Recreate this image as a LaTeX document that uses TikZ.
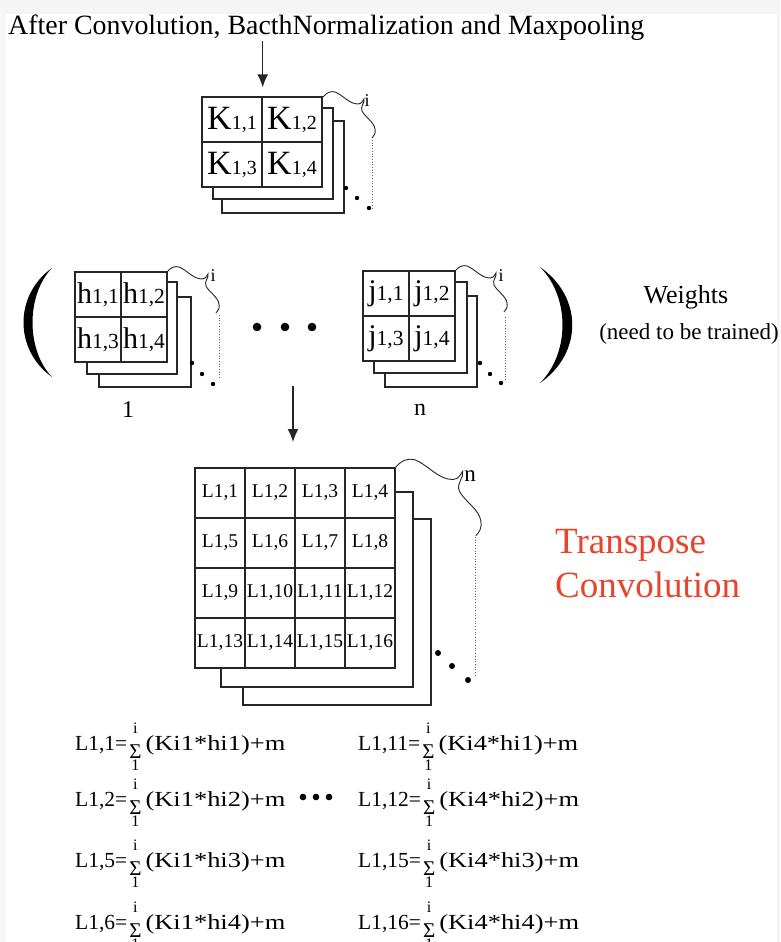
\documentclass[tikz,border=0pt]{standalone}
\usepackage{fontspec}
\setmainfont{Liberation Serif}
\usepackage{graphicx}
\usepackage{tikz}
\usetikzlibrary{arrows.meta, positioning}
\definecolor{tred}{RGB}{232,68,44}
\newcommand{\kcell}[1]{{\fontsize{34}{34}\selectfont K}{\fontsize{20}{20}\selectfont #1}}
\newcommand{\wcell}[2]{{\fontsize{30}{30}\selectfont #1}{\fontsize{21.5}{21.5}\selectfont #2}}
\newcommand{\sumst}{\kern2pt\raisebox{-20pt}{\vbox{\offinterlineskip\halign{\hfil##\hfil\cr
  \fontsize{16}{16}\selectfont i\cr\noalign{\kern11pt}
  \fontsize{21}{21}\selectfont Σ\cr\noalign{\kern1pt}
  \fontsize{16}{16}\selectfont 1\cr}}}\kern4pt}
\newcommand{\term}[1]{\scalebox{1.23}[1]{#1}}
\tikzstyle{ink} = [draw=black!85, line width=1.4pt]
\tikzstyle{kcell} = [ink, minimum width=60pt, minimum height=45pt, inner sep=0pt]
\tikzstyle{wcell} = [ink, minimum width=46pt, minimum height=45pt, inner sep=0pt]
\tikzstyle{lcell} = [ink, minimum width=50pt, minimum height=50pt, inner sep=0pt,
                     font=\fontsize{19.5}{19.5}\selectfont]
\tikzstyle{sheet} = [ink]
\tikzstyle{fade} = [dotted, line width=0.7pt, black!60]
\tikzstyle{curl} = [line width=0.9pt, black!85]
\tikzstyle{pointer} = [ink, -{Latex[length=13pt, width=11pt]}]
\tikzstyle{eq} = [anchor=base west, inner sep=0pt, font=\fontsize{21.5}{21.5}\selectfont]
\newcommand{\curlpath}{(0,0) .. controls (4,-5) and (8,-6) .. (12,-5) .. controls (20,-2) and (26,7) .. (35,7)
  .. controls (39,7) and (40,3) .. (41,2) .. controls (42,6) and (37,9) .. (39,14)
  .. controls (42,20) and (51,25) .. (52,32) .. controls (53,36) and (51,39) .. (49,41)}

\begin{document}
\begin{tikzpicture}[x=1pt, y=-1pt]
	\useasboundingbox (0,0) rectangle (780,942);
	\fill[black!4] (0,0) rectangle (780,942);
	\fill[white] (6,14) rectangle (777,942);

	\node (Title) [anchor=base west, inner sep=0pt, font=\fontsize{27.9}{28}\selectfont] at (8,35)
		{After Convolution, BacthNormalization and Maxpooling};

	% input feature maps
	\node (K1) [kcell] at (232,119.5) {\kcell{1,1}};
	\node (K2) [kcell] at (292,119.5) {\kcell{1,2}};
	\node (K3) [kcell] at (232,164.5) {\kcell{1,3}};
	\node (K4) [kcell] at (292,164.5) {\kcell{1,4}};
	\draw [sheet] (322,108) -- (333,108) -- (333,199) -- (213,199) -- (213,187);
	\draw [sheet] (333,121) -- (344,121) -- (344,213) -- (222,213) -- (222,199);
	\draw [curl, shift={(323,97)}] \curlpath;
	\node (KDepth) [font=\fontsize{18}{18}\selectfont] at (367,101) {i};
	\draw [fade] (372,140) -- (372,208);
	\fill (346,188) circle (2.2pt) (357,198) circle (2.2pt) (369,208) circle (2.2pt);

	\draw [pointer, shorten >=9pt] (Title.south -| K1.north east) -- (K1.north east);

	% weights
	\fill (52,268) .. controls (14,295) and (14,350) .. (52,377) .. controls (26,350) and (26,295) .. (52,268);
	\fill (540,267) .. controls (583,297) and (583,353) .. (540,383) .. controls (570,353) and (570,297) .. (540,267);

	% first kernel
	\node (H1) [wcell] at (98,294.5) {\wcell{h}{1,1}};
	\node (H2) [wcell] at (144,294.5) {\wcell{h}{1,2}};
	\node (H3) [wcell] at (98,339.5) {\wcell{h}{1,3}};
	\node (H4) [wcell] at (144,339.5) {\wcell{h}{1,4}};
	\draw [sheet] (167,282) -- (177,282) -- (177,374) -- (87,374) -- (87,362);
	\draw [sheet] (177,297) -- (191,297) -- (191,387) -- (99,387) -- (99,374);
	\draw [curl, shift={(167,272)}] \curlpath;
	\node (HDepth) [font=\fontsize{18}{18}\selectfont] at (213,276) {i};
	\draw [fade] (219,315) -- (219,378);
	\fill (192,363) circle (2.2pt) (202,374) circle (2.2pt) (213,384) circle (2.2pt);
	\node (HLabel) [font=\fontsize{24}{24}\selectfont] at (128,410) {1};

	\fill (257,327) circle (4.3pt) (285,327) circle (4.3pt) (312,327) circle (4.3pt);

	% n-th kernel
	\node (J1) [wcell] at (386,293.5) {\wcell{j}{1,1}};
	\node (J2) [wcell] at (432,293.5) {\wcell{j}{1,2}};
	\node (J3) [wcell] at (386,338.5) {\wcell{j}{1,3}};
	\node (J4) [wcell] at (432,338.5) {\wcell{j}{1,4}};
	\draw [sheet] (455,282) -- (467,282) -- (467,373) -- (374,373) -- (374,361);
	\draw [sheet] (467,296) -- (477,296) -- (477,387) -- (385,387) -- (385,373);
	\draw [curl, shift={(455,271)}] \curlpath;
	\node (JDepth) [font=\fontsize{18}{18}\selectfont] at (501,276) {i};
	\draw [fade] (505,317) -- (505,380);
	\fill (480,363) circle (2.2pt) (490,374) circle (2.2pt) (501,383) circle (2.2pt);
	\node (JLabel) [font=\fontsize{24}{24}\selectfont] at (420,410) {n};

	\node (Weights) [font=\fontsize{26}{26}\selectfont] at (686,297) {Weights};
	\node (Trained) [font=\fontsize{23}{23}\selectfont] at (689,334) {(need to be trained)};

	\coordinate (WOut) at (293,386);
	\coordinate (LIn) at (293,442);
	\draw [pointer] (WOut) -- (LIn);

	% output of the transpose convolution
	\node (L1) [lcell] at (220,493) {L1,1};
	\node (L2) [lcell] at (270,493) {L1,2};
	\node (L3) [lcell] at (320,493) {L1,3};
	\node (L4) [lcell] at (370,493) {L1,4};
	\node (L5) [lcell] at (220,543) {L1,5};
	\node (L6) [lcell] at (270,543) {L1,6};
	\node (L7) [lcell] at (320,543) {L1,7};
	\node (L8) [lcell] at (370,543) {L1,8};
	\node (L9) [lcell] at (220,593) {L1,9};
	\node (L10) [lcell] at (270,593) {L1,10};
	\node (L11) [lcell] at (320,593) {L1,11};
	\node (L12) [lcell] at (370,593) {L1,12};
	\node (L13) [lcell] at (220,643) {L1,13};
	\node (L14) [lcell] at (270,643) {L1,14};
	\node (L15) [lcell] at (320,643) {L1,15};
	\node (L16) [lcell] at (370,643) {L1,16};
	\draw [sheet] (395,492) -- (413,492) -- (413,687) -- (221,687) -- (221,668);
	\draw [sheet] (413,519) -- (431,519) -- (431,705) -- (243,705) -- (243,687);
	\draw [curl, shift={(395,468)}, scale=1.65] \curlpath;
	\node (LDepth) [font=\fontsize{23}{23}\selectfont] at (470,476) {n};
	\draw [fade] (475,537) -- (475,675);
	\fill (438,653) circle (3pt) (452,666) circle (3pt) (468,680) circle (3pt);

	\node (Transpose) [anchor=base west, inner sep=0pt, text=tred, font=\fontsize{37}{37}\selectfont] at (555,553) {Transpose};
	\node (Convolution) [anchor=base west, inner sep=0pt, text=tred, font=\fontsize{37}{37}\selectfont] at (555,597) {Convolution};

	% equations
	\node (E1) [eq] at (75,750) {L1,1=\sumst\term{(Ki1*hi1)+m}};
	\node (E2) [eq] at (75,806) {L1,2=\sumst\term{(Ki1*hi2)+m}};
	\node (E3) [eq] at (75,867) {L1,5=\sumst\term{(Ki1*hi3)+m}};
	\node (E4) [eq] at (75,929) {L1,6=\sumst\term{(Ki1*hi4)+m}};
	\node (E11) [eq] at (358,750) {L1,11=\sumst\term{(Ki4*hi1)+m}};
	\node (E12) [eq] at (358,806) {L1,12=\sumst\term{(Ki4*hi2)+m}};
	\node (E15) [eq] at (358,867) {L1,15=\sumst\term{(Ki4*hi3)+m}};
	\node (E16) [eq] at (358,929) {L1,16=\sumst\term{(Ki4*hi4)+m}};
	\fill (303,797) circle (3.3pt) (316,797) circle (3.3pt) (329,797) circle (3.3pt);
\end{tikzpicture}
\end{document}
